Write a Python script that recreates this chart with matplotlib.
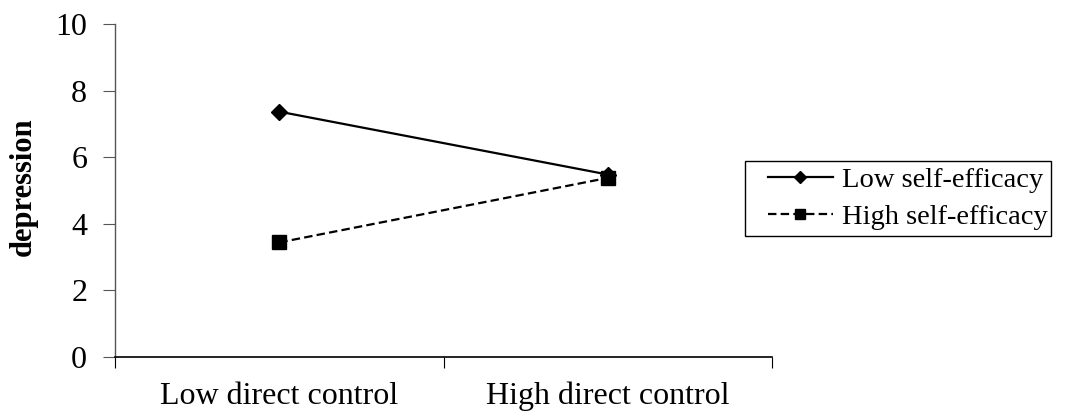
import matplotlib.pyplot as plt
from matplotlib.patches import Rectangle

categories = ["Low direct control", "High direct control"]
low_efficacy = [7.37, 5.48]
high_efficacy = [3.44, 5.38]
series_labels = ["Low self-efficacy", "High self-efficacy"]

plt.rcParams["font.family"] = ["Liberation Serif", "DejaVu Serif"]

fig = plt.figure(figsize=(10.68, 4.16), dpi=100)
ax = fig.add_axes([0.1077, 0.142, 0.6153, 0.800])

xpos = [0.5, 1.5]
ax.plot(xpos, low_efficacy, color="black", lw=1.6, ls="-", marker="D",
        markersize=8.5, label=series_labels[0])
ax.plot(xpos, high_efficacy, color="black", lw=1.6, ls=(0, (3.8, 1.9)), marker="s",
        markersize=10.5, label=series_labels[1])

ax.set_xlim(0, 2)
ax.set_ylim(0, 10)
ax.set_yticks([0, 2, 4, 6, 8, 10])
ax.set_xticks([0, 1, 2])
ax.set_xticklabels([])
ax.set_xticks(xpos, minor=True)
ax.set_xticklabels(categories, minor=True)
ax.tick_params(axis="x", which="minor", length=0, pad=18, labelsize=23)
ax.tick_params(axis="x", which="major", length=8, direction="out", color="black")
ax.tick_params(axis="y", length=9, direction="out", color="#555555",
               labelsize=23, pad=11)

for side in ["top", "right"]:
    ax.spines[side].set_visible(False)
ax.spines["left"].set_color("#555555")
ax.spines["left"].set_linewidth(1)
ax.spines["bottom"].set_color("black")
ax.spines["bottom"].set_linewidth(1.2)
ax.spines["bottom"].set_bounds(0, 2)

ax.set_ylabel("depression", fontsize=22, fontweight="bold")
ax.yaxis.set_label_coords(-0.117, 0.513)

leg = fig.legend(loc="center", bbox_to_anchor=(0.8497, 0.523), fontsize=20.5,
                 frameon=False, handlelength=2.3, markerscale=0.7,
                 borderpad=0, labelspacing=0.385, handletextpad=0.3)

# frame drawn by hand: wider gap on the left, as in the original
fig.canvas.draw()
bb = leg.get_window_extent()
inv = fig.transFigure.inverted()
(x0, y0), (x1, y1) = inv.transform([(bb.x0 - 23, bb.y0 - 6), (bb.x1 + 4, bb.y1 + 6)])
fig.patches.append(Rectangle((x0, y0), x1 - x0, y1 - y0, transform=fig.transFigure,
                             fill=False, edgecolor="black", linewidth=1))

fig.savefig("out.png", dpi=100)
